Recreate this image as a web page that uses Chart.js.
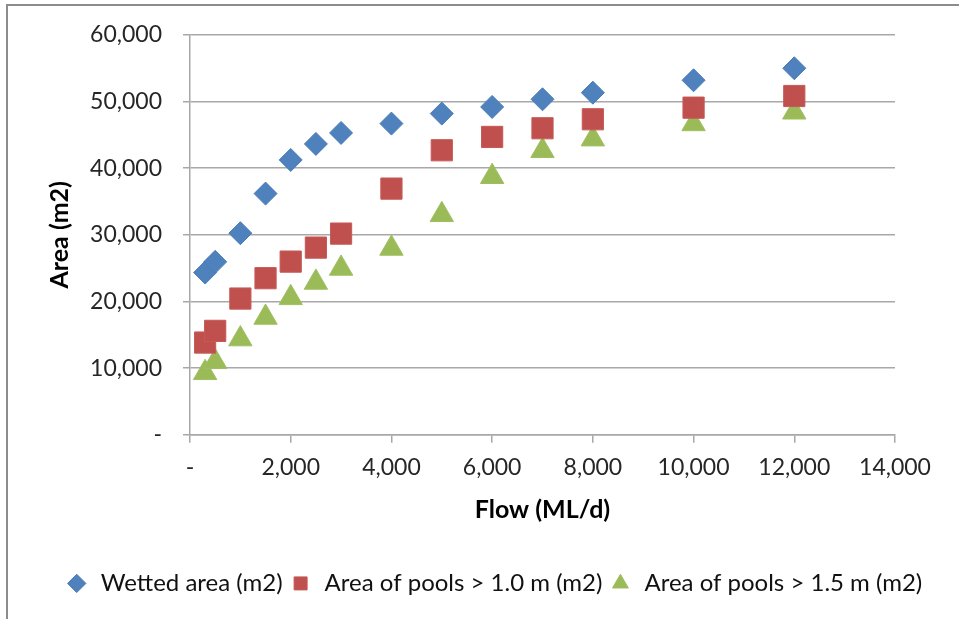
<!DOCTYPE html>
<html>
<head>
<meta charset="utf-8">
<script src="https://cdn.jsdelivr.net/npm/chart.js@4/dist/chart.umd.min.js"></script>
<style>
  html, body { margin: 0; padding: 0; background: #fff; }
  #wrap { position: relative; width: 959px; height: 619px; }
  #frame { position: absolute; left: 6px; top: 4px; right: 0; bottom: 0;
           border-left: 2px solid #8c8c8c; border-top: 2px solid #8c8c8c; pointer-events: none; }
  canvas { position: absolute; left: 0; top: 0; }
</style>
</head>
<body>
<div id="wrap">
  <canvas id="c" width="959" height="619"></canvas>
  <div id="frame"></div>
</div>
<script>
// flow values (ML/d) shared by all three series
const flows = [300, 500, 1000, 1500, 2000, 2500, 3000, 4000, 5000, 6000, 7000, 8000, 10000, 12000];
const wettedArea = [24340, 25940, 30240, 36180, 41230, 43630, 45280, 46680, 48180, 49180, 50330, 51320, 53180, 54980];
const pools10 = [13840, 15590, 20440, 23490, 25980, 28080, 30180, 36930, 42680, 44680, 45980, 47330, 49070, 50820];
const pools15 = [9300, 10950, 14360, 17600, 20540, 22850, 24950, 27950, 33000, 38710, 42600, 44350, 46630, 48380];
const seriesNames = ["Wetted area (m2)", "Area of pools > 1.0 m (m2)", "Area of pools > 1.5 m (m2)"];
const xTicks = [0, 2000, 4000, 6000, 8000, 10000, 12000, 14000];
const yTicks = [0, 10000, 20000, 30000, 40000, 50000, 60000];

const FONT = "Lato, 'Open Sans', sans-serif";
const pts = ys => flows.map((x, i) => ({ x, y: ys[i] }));
const fmt = v => v === 0 ? "-" : v.toLocaleString("en-US");
const GRID = "#a8a8a8";

new Chart(document.getElementById("c"), {
  type: "scatter",
  data: {
    datasets: [
      { label: seriesNames[0], data: pts(wettedArea), pointStyle: "rectRot", pointRadius: 11.5, pointHoverRadius: 11.5,
        backgroundColor: "#4f81bd", borderColor: "#4a7cb8", borderWidth: 1 },
      { label: seriesNames[1], data: pts(pools10), pointStyle: "rect", pointRadius: 15, pointHoverRadius: 15,
        backgroundColor: "#c0504d", borderColor: "#c55a57", borderWidth: 1 },
      { label: seriesNames[2], data: pts(pools15), pointStyle: "triangle", pointRadius: 13.5, pointHoverRadius: 13.5,
        backgroundColor: "#9bbb59", borderColor: "#a0bf60", borderWidth: 1 },
    ],
  },
  options: {
    responsive: false, animation: false, maintainAspectRatio: false,
    layout: { padding: { left: 28, right: 0, top: 34, bottom: 13.6 } },
    plugins: {
      tooltip: { enabled: false },
      legend: {
        position: "bottom",
        labels: { usePointStyle: true, boxHeight: 13, padding: 6, color: "#111",
                  font: { family: FONT, size: 24 } },
      },
    },
    scales: {
      x: {
        type: "linear", min: 0, max: 14000,
        afterBuildTicks: s => { s.ticks = xTicks.map(v => ({ value: v })); },
        afterFit: s => { s.height = 130.6; },
        ticks: { callback: fmt, color: "#262626", padding: 11, maxRotation: 0,
                 font: { family: FONT, size: 23 } },
        grid: { drawOnChartArea: false, drawTicks: true, tickLength: 8, color: GRID, lineWidth: 1.5 },
        border: { display: true, color: GRID, width: 1.5 },
        title: { display: true, text: "Flow (ML/d)", color: "#000",
                 font: { family: FONT, size: 25, weight: "bold" }, padding: { top: 0, bottom: 40 } },
      },
      y: {
        type: "linear", min: 0, max: 60000,
        afterBuildTicks: s => { s.ticks = yTicks.map(v => ({ value: v })); },
        afterFit: s => { s.width = 162; },
        ticks: { callback: fmt, color: "#262626", padding: 21, font: { family: FONT, size: 23 } },
        grid: { color: GRID, lineWidth: 1.5, tickLength: 7 },
        border: { display: true, color: GRID, width: 1.5 },
        title: { display: true, text: "Area (m2)", color: "#000",
                 font: { family: FONT, size: 25, weight: "bold" }, padding: { top: 17, bottom: 0 } },
      },
      yR: {
        type: "linear", position: "right", display: true,
        afterFit: s => { s.width = 64; },
        ticks: { display: false }, grid: { display: false }, border: { display: false },
      },
    },
  },
});
</script>
</body>
</html>
